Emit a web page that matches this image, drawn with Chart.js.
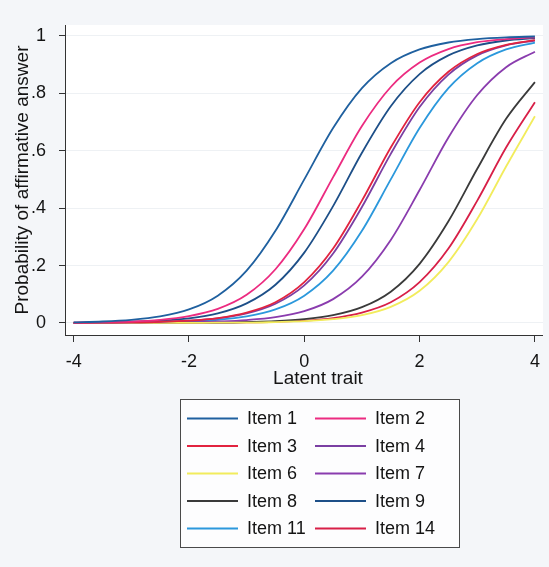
<!DOCTYPE html>
<html>
<head>
<meta charset="utf-8">
<script src="https://cdn.jsdelivr.net/npm/chart.js@4/dist/chart.umd.min.js"></script>
<style>
  html, body { margin: 0; padding: 0; background: #f4f6f9; }
  #c { display: block; }
</style>
</head>
<body>
<canvas id="c" width="549" height="567"></canvas>
<script>
// Latent trait grid the curves were read at
const theta = [-4, -3.5, -3, -2.5, -2, -1.5, -1, -0.5, 0, 0.5, 1, 1.5, 2, 2.5, 3, 3.5, 4];

// Probability of affirmative answer
const item1  = [0.002, 0.005, 0.011, 0.023, 0.047, 0.095, 0.182, 0.321, 0.5, 0.679, 0.818, 0.905, 0.953, 0.977, 0.989, 0.995, 0.998];
const item2  = [0.001, 0.003, 0.005, 0.011, 0.024, 0.049, 0.098, 0.187, 0.327, 0.508, 0.686, 0.822, 0.907, 0.954, 0.978, 0.989, 0.995];
const item3  = [0, 0.001, 0.002, 0.004, 0.008, 0.017, 0.036, 0.072, 0.142, 0.259, 0.426, 0.611, 0.769, 0.875, 0.937, 0.969, 0.985];
const item4  = [0, 0.001, 0.002, 0.004, 0.008, 0.016, 0.033, 0.067, 0.131, 0.242, 0.404, 0.589, 0.752, 0.865, 0.932, 0.967, 0.984];
const item6  = [0, 0, 0, 0, 0, 0.001, 0.001, 0.003, 0.006, 0.013, 0.027, 0.056, 0.112, 0.212, 0.362, 0.545, 0.72];
const item7  = [0, 0, 0, 0.001, 0.002, 0.005, 0.01, 0.02, 0.041, 0.083, 0.161, 0.289, 0.463, 0.646, 0.794, 0.891, 0.945];
const item8  = [0, 0, 0, 0, 0.001, 0.001, 0.003, 0.006, 0.013, 0.027, 0.055, 0.109, 0.206, 0.354, 0.537, 0.711, 0.839];
const item9  = [0.001, 0.002, 0.004, 0.008, 0.016, 0.033, 0.068, 0.133, 0.245, 0.407, 0.593, 0.755, 0.867, 0.932, 0.967, 0.984, 0.992];
const item11 = [0, 0.001, 0.001, 0.002, 0.005, 0.011, 0.023, 0.047, 0.095, 0.182, 0.321, 0.5, 0.679, 0.818, 0.905, 0.953, 0.977];
const item14 = [0, 0, 0, 0, 0, 0.001, 0.002, 0.004, 0.008, 0.017, 0.036, 0.072, 0.142, 0.259, 0.426, 0.611, 0.769];

const labels = ['Item 1', 'Item 2', 'Item 3', 'Item 4', 'Item 6', 'Item 7', 'Item 8', 'Item 9', 'Item 11', 'Item 14'];
const series = [item1, item2, item3, item4, item6, item7, item8, item9, item11, item14];
const colors = ['#1f609f', '#ec2b80', '#e2233f', '#7b3fa3', '#f2ec5c', '#8a3cae', '#3a3a3a', '#1d4f88', '#2b98dc', '#d81f47'];

const xTicks = [-4, -2, 0, 2, 4];
const yTicks = [0, 0.2, 0.4, 0.6, 0.8, 1];
const yTickLabels = ['0', '.2', '.4', '.6', '.8', '1'];
const xTitle = 'Latent trait';
const yTitle = 'Probability of affirmative answer';

const FONT = '"Liberation Sans", Arial, sans-serif';
const TEXT = '#141414';

// white plot region, x title and the boxed two-column legend
const decor = {
  id: 'decor',
  beforeDraw(chart) {
    const a = chart.chartArea;
    const ctx = chart.ctx;
    ctx.save();
    ctx.fillStyle = '#ffffff';
    ctx.fillRect(a.left, a.top, a.right - a.left, a.bottom - a.top);
    ctx.restore();
  },
  afterDraw(chart) {
    const ctx = chart.ctx;
    ctx.save();
    ctx.fillStyle = TEXT;
    ctx.font = '19px ' + FONT;
    ctx.textAlign = 'center';
    ctx.textBaseline = 'middle';
    ctx.fillText(xTitle, 318, 379);

    const bx = 180.5, by = 399.5, bw = 279, bh = 148;
    ctx.fillStyle = '#fdfdfe';
    ctx.fillRect(bx, by, bw, bh);
    ctx.strokeStyle = '#4a4a4a';
    ctx.lineWidth = 1;
    ctx.strokeRect(bx, by, bw, bh);

    ctx.font = '18px ' + FONT;
    ctx.textAlign = 'left';
    chart.data.datasets.forEach((ds, i) => {
      const col = i % 2, row = Math.floor(i / 2);
      const lx = col ? 315 : 187;
      const cy = 418.5 + row * 27.5;
      ctx.strokeStyle = ds.borderColor;
      ctx.lineWidth = 1.8;
      ctx.beginPath();
      ctx.moveTo(lx, cy);
      ctx.lineTo(lx + 51, cy);
      ctx.stroke();
      ctx.fillStyle = TEXT;
      ctx.fillText(ds.label, lx + 60, cy + 1);
    });
    ctx.restore();
  }
};

new Chart(document.getElementById('c'), {
  type: 'line',
  data: {
    datasets: labels.map((lab, i) => ({
      label: lab,
      data: theta.map((t, j) => ({ x: t, y: series[i][j] })),
      borderColor: colors[i],
      backgroundColor: colors[i],
      borderWidth: 1.8,
      pointRadius: 0,
      cubicInterpolationMode: 'monotone',
      fill: false
    }))
  },
  options: {
    responsive: false,
    animation: false,
    devicePixelRatio: 1,
    layout: { padding: { top: 25, right: 4.5, bottom: 172, left: 0 } },
    plugins: {
      legend: { display: false },
      tooltip: { enabled: false }
    },
    scales: {
      x: {
        type: 'linear',
        min: -4.15,
        max: 4.14,
        afterBuildTicks: s => { s.ticks = xTicks.map(v => ({ value: v })); },
        afterFit: s => { s.height = 60; },
        ticks: {
          font: { family: FONT, size: 18 },
          color: TEXT,
          padding: 9,
          maxRotation: 0,
          callback: v => String(v)
        },
        grid: { drawOnChartArea: false, tickLength: 7, tickColor: '#333' },
        border: { color: '#333', width: 1 }
      },
      y: {
        min: -0.042,
        max: 1.038,
        afterBuildTicks: s => { s.ticks = yTicks.map(v => ({ value: v })); },
        afterFit: s => { s.width = 65; },
        ticks: {
          font: { family: FONT, size: 18 },
          color: TEXT,
          padding: 13,
          callback: (v, i) => yTickLabels[i]
        },
        grid: { color: '#eef1f4', tickLength: 6, tickColor: '#333' },
        border: { color: '#333', width: 1 },
        title: {
          display: true,
          text: yTitle,
          font: { family: FONT, size: 19 },
          color: TEXT,
          padding: { top: 11, bottom: 0 }
        }
      }
    }
  },
  plugins: [decor]
});
</script>
</body>
</html>
